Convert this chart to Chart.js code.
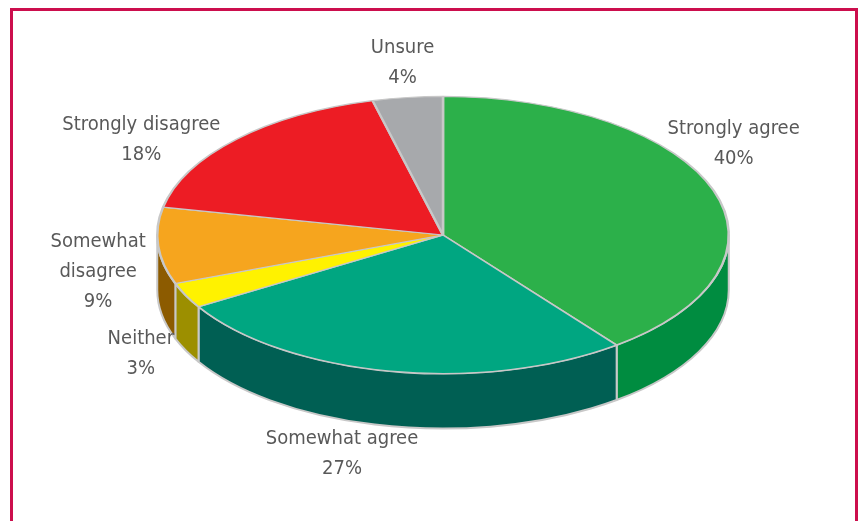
<!DOCTYPE html>
<html>
<head>
<meta charset="utf-8">
<script src="https://cdn.jsdelivr.net/npm/chart.js@4/dist/chart.umd.min.js"></script>
<style>
  html, body { margin: 0; padding: 0; width: 859px; height: 521px; overflow: hidden; background: #fff; }
  #frame { position: absolute; left: 10px; top: 8px; width: 842px; height: 540px; border: 3px solid #cc0e4d; border-bottom: none; }
  #wrap { position: absolute; left: 0; top: 0; width: 859px; height: 600px; }
</style>
</head>
<body>
<div id="frame"></div>
<div id="wrap"><canvas id="canvas"></canvas></div>
<script>
const labels = ['Strongly agree', 'Somewhat agree', 'Neither', ['Somewhat', 'disagree'], 'Strongly disagree', 'Unsure']
const values = [40, 27, 3, 9, 18, 4]
const topColors = ['#2cb04a', '#00a681', '#fff200', '#f6a51e', '#ed1c24', '#a7a9ac']
const sideColors = ['#008c40', '#005f53', '#9c8f00', '#8c5b00', '#9a1016', '#6d6e70']

// look of the tilted pie
const tilt = 0.485
const depth = 55
const centerY = 235
const edge = '#c8c8c8'
// where each label sits relative to its slice edge
const labelNudge = [[20, -47], [-48, 83], [-45, 58], [-60, 26], [-95, 0], [-5, -35]]

const squash = (ctx, cy) => {
  ctx.translate(0, centerY - cy * tilt)
  ctx.scale(1, tilt)
}

const pie3d = {
  id: 'pie3d',
  beforeDatasetsDraw(chart) {
    const ctx = chart.ctx
    const arcs = chart.getDatasetMeta(0).data
    const d = depth / tilt
    arcs.forEach((arc, i) => {
      const a = Math.max(arc.startAngle, 0)
      const b = Math.min(arc.endAngle, Math.PI)
      if (b <= a) return
      ctx.save()
      squash(ctx, arc.y)
      ctx.beginPath()
      ctx.arc(arc.x, arc.y, arc.outerRadius, a, b)
      ctx.arc(arc.x, arc.y + d, arc.outerRadius, b, a, true)
      ctx.closePath()
      ctx.restore()
      ctx.fillStyle = sideColors[i]
      ctx.fill()
      ctx.strokeStyle = edge
      ctx.lineWidth = 2
      ctx.lineJoin = 'round'
      ctx.stroke()
    })
    ctx.save()
    squash(ctx, arcs[0].y)
  },
  afterDatasetsDraw(chart) {
    const ctx = chart.ctx
    ctx.restore()
    const arcs = chart.getDatasetMeta(0).data
    ctx.save()
    ctx.fillStyle = '#595959'
    ctx.font = '20px "Liberation Sans Narrow", "DejaVu Sans Condensed", sans-serif'
    ctx.textAlign = 'center'
    ctx.textBaseline = 'middle'
    arcs.forEach((arc, i) => {
      const mid = (arc.startAngle + arc.endAngle) / 2
      const x = arc.x + arc.outerRadius * Math.cos(mid) + labelNudge[i][0]
      const y = centerY + arc.outerRadius * tilt * Math.sin(mid) + labelNudge[i][1]
      const lines = [].concat(labels[i], values[i] + '%')
      const lh = 30
      lines.forEach((t, k) => {
        ctx.fillText(t, x, y + (k - (lines.length - 1) / 2) * lh)
      })
    })
    ctx.restore()
  }
}

const data = {
  labels: labels,
  datasets: [{
    data: values,
    backgroundColor: topColors,
    borderColor: edge,
    borderWidth: 2.5,
    clip: false,
  }],
}

const config = {
  type: 'pie',
  data: data,
  options: {
    responsive: true,
    maintainAspectRatio: false,
    animation: false,
    layout: { padding: { left: 27, right: 0, top: 13, bottom: 13 } },
    plugins: { legend: { display: false }, tooltip: { enabled: false } },
  },
  plugins: [pie3d],
}

const canvas = document.getElementById('canvas')
const chart = new Chart(canvas, config)
</script>
</body>
</html>
